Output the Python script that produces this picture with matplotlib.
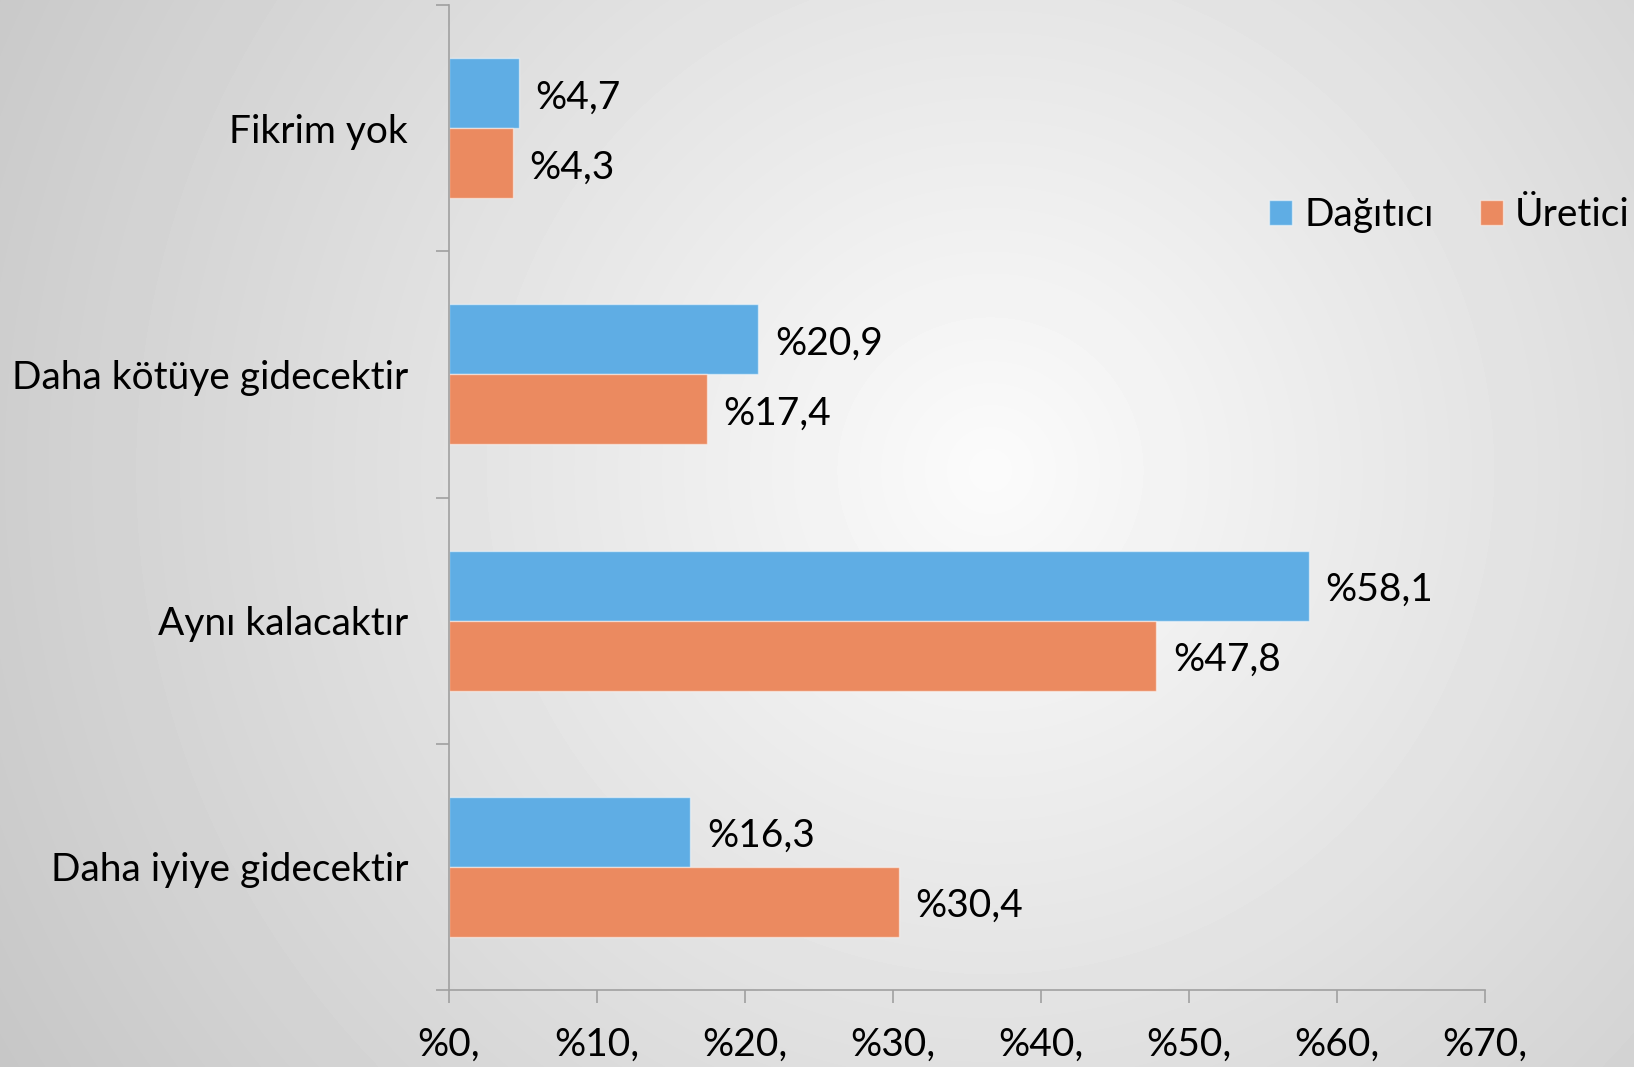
import numpy as np
import matplotlib
matplotlib.use("Agg")
import matplotlib.pyplot as plt

plt.rcParams['font.family'] = ['Lato', 'DejaVu Sans']

categories = ["Daha iyiye gidecektir", "Aynı kalacaktır", "Daha kötüye gidecektir", "Fikrim yok"]
dagitici = [16.3, 58.1, 20.9, 4.7]
uretici = [30.4, 47.8, 17.4, 4.3]
series_names = ["Dağıtıcı", "Üretici"]
xticks = [0, 10, 20, 30, 40, 50, 60, 70]
xtick_labels = ["%0,", "%10,", "%20,", "%30,", "%40,", "%50,", "%60,", "%70,"]

W, H = 1634, 1067
FS = 28
fig = plt.figure(figsize=(W / 100, H / 100), dpi=100)

# radial gradient background
bg = fig.add_axes([0, 0, 1, 1], zorder=-10)
yy, xx = np.mgrid[0:H, 0:W]
r = np.hypot(xx - 990, yy - 470)
v = 251 - 50 * r / 1100
bg.imshow(v, cmap='gray', vmin=0, vmax=255, aspect='auto', interpolation='bilinear')
bg.axis('off')

ax = fig.add_axes([449 / W, 1 - 990 / H, (1485 - 449) / W, (990 - 5) / H])
ax.patch.set_alpha(0)

y = np.arange(len(categories))
h = 0.284
blue = '#5FADE4'
orange = '#EB8A60'
b1 = ax.barh(y + h / 2, dagitici, height=h, color=blue, edgecolor=(1, 1, 1, 0.5),
             linewidth=1, label=series_names[0])
b2 = ax.barh(y - h / 2, uretici, height=h, color=orange, edgecolor=(1, 1, 1, 0.5),
             linewidth=1, label=series_names[1])

for bars, vals in ((b1, dagitici), (b2, uretici)):
    for rect, val in zip(bars, vals):
        ax.annotate("%" + f"{val:.1f}".replace('.', ','),
                    xy=(rect.get_width(), rect.get_y() + rect.get_height() / 2),
                    xytext=(12, -3), textcoords='offset points',
                    va='center', ha='left', fontsize=FS, color='black')

ax.set_xlim(0, 70)
ax.set_ylim(-0.5, len(categories) - 0.5)
ax.set_xticks(xticks)
ax.set_xticklabels(xtick_labels, fontsize=FS)

ax.set_yticks(np.arange(-0.5, len(categories), 1.0))
ax.set_yticklabels([])
ax.set_yticks(y, minor=True)
ax.set_yticklabels(categories, minor=True, fontsize=FS)

axis_col = '#A0A0A0'
ax.tick_params(axis='x', which='major', direction='out', length=9.5, width=1.2,
               color=axis_col, pad=17, labelcolor='black')
ax.tick_params(axis='y', which='major', direction='out', length=9.5, width=1.2,
               color=axis_col)
ax.tick_params(axis='y', which='minor', length=0, pad=29.5, labelcolor='black')

for s in ['top', 'right']:
    ax.spines[s].set_visible(False)
for s in ['left', 'bottom']:
    ax.spines[s].set_color(axis_col)
    ax.spines[s].set_linewidth(1.2)

leg = fig.legend(handles=[b1, b2], labels=series_names, loc='center left',
                 bbox_to_anchor=(1269 / W, 1 - 215 / H), bbox_transform=fig.transFigure,
                 ncol=2, frameon=False, fontsize=FS, borderaxespad=0, borderpad=0,
                 handlelength=0.6, handleheight=0.6, handletextpad=0.3,
                 columnspacing=1.2)

fig.savefig('out.png', dpi=100)
